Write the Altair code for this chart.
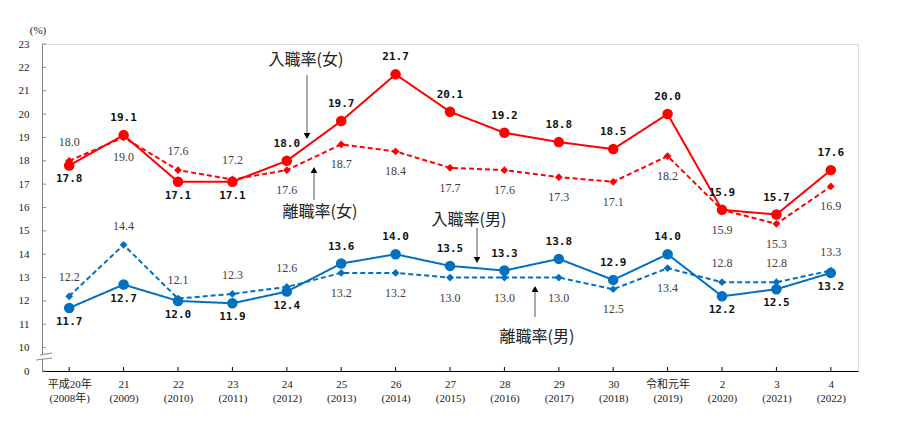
import altair as alt
import pandas as pd

# ---- data ----
year_line1 = ["平成20年", "21", "22", "23", "24", "25", "26", "27", "28", "29", "30",
              "令和元年", "2", "3", "4"]
year_line2 = ["(2008年)", "(2009)", "(2010)", "(2011)", "(2012)", "(2013)", "(2014)",
              "(2015)", "(2016)", "(2017)", "(2018)", "(2019)", "(2020)", "(2021)", "(2022)"]

entry_f = [17.8, 19.1, 17.1, 17.1, 18.0, 19.7, 21.7, 20.1, 19.2, 18.8, 18.5, 20.0, 15.9, 15.7, 17.6]
sep_f = [18.0, 19.0, 17.6, 17.2, 17.6, 18.7, 18.4, 17.7, 17.6, 17.3, 17.1, 18.2, 15.9, 15.3, 16.9]
entry_m = [11.7, 12.7, 12.0, 11.9, 12.4, 13.6, 14.0, 13.5, 13.3, 13.8, 12.9, 14.0, 12.2, 12.5, 13.2]
sep_m = [12.2, 14.4, 12.1, 12.3, 12.6, 13.2, 13.2, 13.0, 13.0, 13.0, 12.5, 13.4, 12.8, 12.8, 13.3]

# label side for each value label
side_entry_f = ["below", "above", "below", "below"] + ["above"] * 11
side_sep_f = ["above", "below", "above", "above"] + ["below"] * 11
side_entry_m = ["below"] * 5 + ["above"] * 7 + ["below"] * 3
side_sep_m = ["above"] * 5 + ["below"] * 7 + ["above"] * 3

series_names = ["入職率(女)", "離職率(女)", "入職率(男)", "離職率(男)"]
series_colors = ["#FF0000", "#FF0000", "#0070C0", "#0070C0"]
series_kind = ["entry", "sep", "entry", "sep"]

y_ticks = list(range(9, 24))   # 9 is shown as "0" (broken axis)

cats = [a + "\n" + b for a, b in zip(year_line1, year_line2)]

rows = []
for name, kind, vals, sides in zip(series_names, series_kind,
                                   [entry_f, sep_f, entry_m, sep_m],
                                   [side_entry_f, side_sep_f, side_entry_m, side_sep_m]):
    for c, v, s in zip(cats, vals, sides):
        rows.append({"year": c, "series": name, "kind": kind, "value": v,
                     "side": s, "lab": f"{v:.1f}"})
df = pd.DataFrame(rows)

W, H = 816, 327
SERIF = "Liberation Serif, Noto Sans CJK JP"

xscale = alt.Scale(type="point", padding=0.5)
xenc = alt.X("year:N", sort=cats, scale=xscale,
             axis=alt.Axis(title=None, labelExpr="split(datum.label, '\\n')",
                           labelAngle=0, ticks=False, domainColor="#000000",
                           domainWidth=1.2, labelFont=SERIF,
                           labelFontSize=11, labelColor="#222222", labelPadding=7,
                           labelLineHeight=14, labelBaseline="top"))
yscale = alt.Scale(domain=[9, 23], nice=False, zero=False)
yenc = alt.Y("value:Q", scale=yscale,
             axis=alt.Axis(title=None, values=y_ticks,
                           labelExpr="datum.value == 9 ? '0' : datum.label",
                           labelOverlap=False, labelBound=False, labelFlush=False,
                           ticks=False, grid=False, domainColor="#888888",
                           labelFont="Liberation Serif", labelFontSize=11,
                           labelColor="#222222", labelPadding=13))
color = alt.Color("series:N", scale=alt.Scale(domain=series_names, range=series_colors),
                  legend=None)

base = alt.Chart(df)

lines = base.mark_line(strokeWidth=2).encode(
    x=xenc, y=yenc, color=color, detail="series:N",
    strokeDash=alt.StrokeDash("kind:N", scale=alt.Scale(domain=["entry", "sep"],
                                                       range=[[1, 0], [5, 3]]), legend=None),
)
pts_entry = base.transform_filter("datum.kind == 'entry'").mark_point(
    filled=True, opacity=1, size=110, shape="circle").encode(x=xenc, y=yenc, color=color)
pts_sep = base.transform_filter("datum.kind == 'sep'").mark_point(
    filled=True, opacity=1, size=60, shape="diamond").encode(x=xenc, y=yenc, color=color)

def lab(kind, side, dy, font, weight, col, size):
    return base.transform_filter(
        f"datum.kind == '{kind}' && datum.side == '{side}'"
    ).mark_text(dy=dy, font=font, fontWeight=weight, color=col, fontSize=size,
                baseline="middle").encode(x=xenc, y=yenc, text="lab:N")

labels = [
    lab("entry", "above", -17, "DejaVu Sans Mono", "bold", "#111111", 11),
    lab("entry", "below", 14, "DejaVu Sans Mono", "bold", "#111111", 11),
    lab("sep", "above", -19, "Liberation Serif", "normal", "#404040", 12),
    lab("sep", "below", 20, "Liberation Serif", "normal", "#404040", 12),
]

# inner tick marks
ytick_df = pd.DataFrame({"value": y_ticks})
yticks = alt.Chart(ytick_df).mark_rule(color="#888888").encode(
    y=yenc, x=alt.value(0), x2=alt.value(4))
xtick_df = pd.DataFrame({"year": cats})
xticks = alt.Chart(xtick_df).mark_rule(color="#000000").encode(
    x=xenc, y=alt.value(H), y2=alt.value(H - 4))

one = pd.DataFrame({"a": [0]})

# axis break marks
deco = [
    alt.Chart(one).mark_rule(color="white", strokeWidth=4).encode(
        x=alt.value(0), y=alt.value(311), y2=alt.value(315)),
    alt.Chart(one).mark_rule(color="#888888").encode(
        x=alt.value(-2), x2=alt.value(10), y=alt.value(311), y2=alt.value(309)),
    alt.Chart(one).mark_rule(color="#888888").encode(
        x=alt.value(-6), x2=alt.value(10), y=alt.value(316), y2=alt.value(314)),
]

# annotations
ann_text = ["入職率(女)", "離職率(女)", "入職率(男)", "離職率(男)"]
ann_pos = [(264, 16), (278, 168), (427, 176), (495, 293)]
for t, (px, py) in zip(ann_text, ann_pos):
    deco.append(alt.Chart(one).mark_text(font="Noto Sans CJK JP", color="#222222",
                                         fontSize=16, baseline="middle", text=t).encode(
        x=alt.value(px), y=alt.value(py)))
deco.append(alt.Chart(one).mark_text(font=SERIF, color="#222222", fontSize=11,
                                     baseline="middle", text="(%)").encode(
    x=alt.value(-4), y=alt.value(-13)))

arrows = [(265, 31, 92, "down"), (272, 126, 156, "up"), (435, 184, 216, "down"),
          (493, 245, 273, "up")]
for px, y1, y2, d in arrows:
    deco.append(alt.Chart(one).mark_rule(color="#555555", strokeWidth=1).encode(
        x=alt.value(px), y=alt.value(y1), y2=alt.value(y2)))
    deco.append(alt.Chart(one).mark_point(filled=True, color="#000000", opacity=1, size=45,
                                          shape="triangle-down" if d == "down" else "triangle-up").encode(
        x=alt.value(px), y=alt.value(y2 if d == "down" else y1)))

chart = alt.layer(
    lines, pts_sep, pts_entry, *labels, yticks, xticks, *deco
).properties(
    width=W, height=H,
    autosize=alt.AutoSizeParams(type="none"),
    padding={"left": 34, "top": 36, "right": 31, "bottom": 51},
).configure_view(strokeWidth=0).configure(background="white")

chart.save("out.html", embed_options={"renderer": "svg", "actions": False})
